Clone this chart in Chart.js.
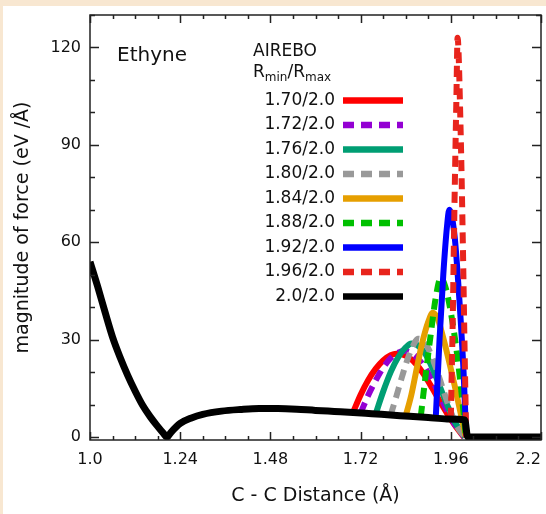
<!DOCTYPE html>
<html>
<head>
<meta charset="utf-8">
<script src="https://cdn.jsdelivr.net/npm/chart.js@4.4.0/dist/chart.umd.min.js"></script>
<style>
  html, body { margin: 0; padding: 0; background: #fff; }
  #forceChart { display: block; }
</style>
</head>
<body>
<canvas id="forceChart" width="546" height="514"></canvas>
<script>
// Force magnitude vs C-C distance for ethyne, AIREBO with different Rmin cutoffs

const xTicks = [1.0, 1.24, 1.48, 1.72, 1.96, 2.2];
const xTickLabels = ['1.0', '1.24', '1.48', '1.72', '1.96', '2.2'];
const yTicks = [0, 30, 60, 90, 120];
const yTickLabels = ['0', '30', '60', '90', '120'];

const cutoffLabels = ['1.70/2.0', '1.72/2.0', '1.76/2.0', '1.80/2.0', '1.84/2.0',
                      '1.88/2.0', '1.92/2.0', '1.96/2.0', '2.0/2.0'];

// [distance (Å), |F| (eV/Å)]
const f170 = [[1.70, 7.6], [1.72, 13.0], [1.74, 17.5], [1.76, 21.0], [1.78, 23.6], [1.80, 25.2],
              [1.815, 25.7], [1.83, 25.5], [1.85, 24.4], [1.87, 22.2], [1.89, 19.0], [1.91, 15.2],
              [1.93, 11.2], [1.95, 7.3], [1.97, 3.8], [1.995, 0]];
const f172 = [[1.72, 7.4], [1.74, 12.8], [1.76, 17.4], [1.78, 21.4], [1.80, 24.3], [1.82, 26.0],
              [1.835, 26.5], [1.85, 26.1], [1.87, 24.5], [1.89, 21.6], [1.91, 17.6], [1.93, 12.9],
              [1.95, 8.2], [1.97, 4.0], [1.997, 0]];
const f176 = [[1.76, 7.1], [1.78, 14.0], [1.80, 20.0], [1.82, 24.6], [1.84, 27.6], [1.855, 28.8],
              [1.87, 28.4], [1.89, 26.0], [1.91, 21.5], [1.93, 15.8], [1.95, 10.0], [1.97, 4.8],
              [1.998, 0]];
const f180 = [[1.80, 6.8], [1.815, 12.5], [1.83, 18.5], [1.845, 24.0], [1.86, 28.2], [1.872, 30.3],
              [1.885, 29.8], [1.90, 27.3], [1.92, 21.5], [1.94, 14.5], [1.96, 7.8], [1.98, 2.6],
              [1.999, 0]];
const f184 = [[1.84, 6.5], [1.855, 13.0], [1.87, 21.5], [1.885, 29.5], [1.90, 35.5], [1.912, 38.3],
              [1.925, 36.5], [1.94, 30.5], [1.955, 23.5], [1.97, 16.0], [1.985, 8.0], [2.0, 0]];
const f188 = [[1.88, 6.2], [1.893, 19.0], [1.907, 32.0], [1.92, 43.0], [1.933, 49.0], [1.945, 46.5],
              [1.96, 38.5], [1.975, 27.0], [1.99, 12.0], [2.0, 0]];
const f192 = [[1.92, 5.9], [1.93, 30.0], [1.94, 50.0], [1.95, 65.0], [1.956, 70.0], [1.97, 62.0],
              [1.983, 42.0], [1.994, 20.0], [2.001, 0]];
const f196 = [[1.96, 5.6], [1.965, 35.0], [1.97, 73.0], [1.975, 105.0], [1.978, 123.0],
              [1.986, 95.0], [1.992, 60.0], [1.997, 25.0], [2.001, 0]];
const f200 = [[1.0, 54.0], [1.02, 46.5], [1.04, 38.5], [1.06, 30.8], [1.08, 24.6], [1.10, 19.1],
              [1.12, 14.2], [1.14, 9.8], [1.16, 6.3], [1.18, 3.3], [1.195, 1.2], [1.205, 0],
              [1.215, 1.4], [1.24, 4.2], [1.27, 5.9], [1.30, 7.0], [1.35, 8.0], [1.40, 8.5],
              [1.45, 8.8], [1.50, 8.8], [1.55, 8.6], [1.60, 8.2], [1.65, 7.9], [1.70, 7.6],
              [1.75, 7.2], [1.80, 6.8], [1.85, 6.4], [1.90, 6.0], [1.95, 5.6], [1.997, 5.3],
              [2.005, 0], [2.2, 0]];

const seriesData = [f170, f172, f176, f180, f184, f188, f192, f196, f200];

// line styles, same order as the labels
const lineColors = ['#ff0000', '#9400d3', '#009e73', '#999999', '#e69f00',
                    '#00c000', '#0000ff', '#e8241c', '#000000'];
const lineDashed = [false, true, false, true, false, true, false, true, false];

const FONT = 'DejaVu Sans';
const DASH = [11, 7];

const datasets = seriesData.map((pts, i) => ({
  label: cutoffLabels[i],
  data: pts.map(p => ({ x: p[0], y: p[1] })),
  borderColor: lineColors[i],
  borderWidth: i === 8 ? 7 : 6,
  borderDash: lineDashed[i] ? DASH : [],
  pointRadius: 0,
  fill: false,
  cubicInterpolationMode: 'monotone',
  order: seriesData.length - 1 - i   // later cutoffs drawn on top, black last
}));

// beige frame behind, box and inward ticks on all four sides
const frameTicks = {
  id: 'frameTicks',
  beforeDraw(chart) {
    const { ctx, width, height } = chart;
    ctx.save();
    ctx.fillStyle = '#f8e7d1';
    ctx.fillRect(0, 0, width, height);
    ctx.fillStyle = '#ffffff';
    ctx.fillRect(3, 6, width - 3, height - 6);
    ctx.restore();
  },
  afterDatasetsDraw(chart) {
    const { ctx, chartArea: a, scales: { x, y } } = chart;
    ctx.save();
    ctx.strokeStyle = '#222';
    ctx.lineWidth = 1.5;
    ctx.strokeRect(a.left, a.top, a.right - a.left, a.bottom - a.top);
    ctx.beginPath();
    for (let i = 0; i <= 20; i++) {
      const px = Math.round(x.getPixelForValue(1.0 + i * 0.06)) + 0.5;
      const len = i % 4 === 0 ? 8 : 4;
      ctx.moveTo(px, a.bottom); ctx.lineTo(px, a.bottom - len);
      ctx.moveTo(px, a.top); ctx.lineTo(px, a.top + len);
    }
    for (let i = 0; i <= 13; i++) {
      const py = Math.round(y.getPixelForValue(i * 10)) + 0.5;
      const len = i % 3 === 0 ? 9 : 5;
      ctx.moveTo(a.left, py); ctx.lineTo(a.left + len, py);
      ctx.moveTo(a.right, py); ctx.lineTo(a.right - len, py);
    }
    ctx.stroke();
    ctx.restore();
  }
};

// text annotations and the legend with labels to the left of the swatches
const legendBox = {
  id: 'legendBox',
  afterDraw(chart) {
    const ctx = chart.ctx;
    ctx.save();
    ctx.fillStyle = '#111';
    ctx.textBaseline = 'middle';
    ctx.textAlign = 'left';
    ctx.font = `20px "${FONT}"`;
    ctx.fillText('Ethyne', 117, 56);

    ctx.font = `17px "${FONT}"`;
    ctx.fillText('AIREBO', 253, 52);
    let tx = 253;
    [['R', 0], ['min', 1], ['/', 0], ['R', 0], ['max', 1]].forEach(([t, sub]) => {
      ctx.font = sub ? `12px "${FONT}"` : `17px "${FONT}"`;
      ctx.fillText(t, tx, sub ? 78 : 73);
      tx += ctx.measureText(t).width;
    });

    chart.data.datasets.forEach((ds, i) => {
      const ry = 100.5 + i * 24.5;
      ctx.font = `17px "${FONT}"`;
      ctx.textAlign = 'right';
      ctx.fillStyle = '#111';
      ctx.fillText(ds.label, 335, ry);
      ctx.strokeStyle = ds.borderColor;
      ctx.lineWidth = 6.5;
      ctx.setLineDash(ds.borderDash);
      ctx.beginPath();
      ctx.moveTo(343, ry);
      ctx.lineTo(403, ry);
      ctx.stroke();
    });
    ctx.restore();
  }
};

Chart.defaults.font.family = FONT;

new Chart(document.getElementById('forceChart'), {
  type: 'line',
  data: { datasets },
  options: {
    responsive: false,
    animation: false,
    layout: { padding: { left: 0, right: 5, top: 15, bottom: 0 } },
    plugins: { legend: { display: false }, tooltip: { enabled: false } },
    scales: {
      x: {
        type: 'linear',
        min: 1.0,
        max: 2.2,
        afterBuildTicks: s => { s.ticks = xTicks.map(v => ({ value: v })); },
        afterFit: s => { s.height = 74; s.paddingLeft = 0; s.paddingRight = 0; },
        grid: { display: false, drawTicks: false },
        border: { display: false },
        ticks: {
          // last label sits inside the right edge
          callback: (v, i) => i === xTickLabels.length - 1
            ? xTickLabels[i] + '\u00a0'.repeat(5) : xTickLabels[i],
          color: '#111',
          font: { size: 16 },
          padding: 10,
          maxRotation: 0,
          autoSkip: false
        },
        title: {
          display: true,
          text: 'C - C Distance (Å)',
          color: '#111',
          font: { size: 19 },
          padding: { top: 0, bottom: 7 }
        }
      },
      y: {
        type: 'linear',
        min: -0.9,
        max: 130,
        afterBuildTicks: s => { s.ticks = yTicks.map(v => ({ value: v })); },
        afterFit: s => { s.width = 90; s.paddingTop = 0; s.paddingBottom = 0; },
        grid: { display: false, drawTicks: false },
        border: { display: false },
        ticks: {
          callback: (v, i) => yTickLabels[i],
          color: '#111',
          font: { size: 16 },
          padding: 9
        },
        title: {
          display: true,
          text: 'magnitude of force (eV /Å)',
          color: '#111',
          font: { size: 19 },
          padding: { top: 12, bottom: 0 }
        }
      }
    }
  },
  plugins: [frameTicks, legendBox]
});
</script>
</body>
</html>
